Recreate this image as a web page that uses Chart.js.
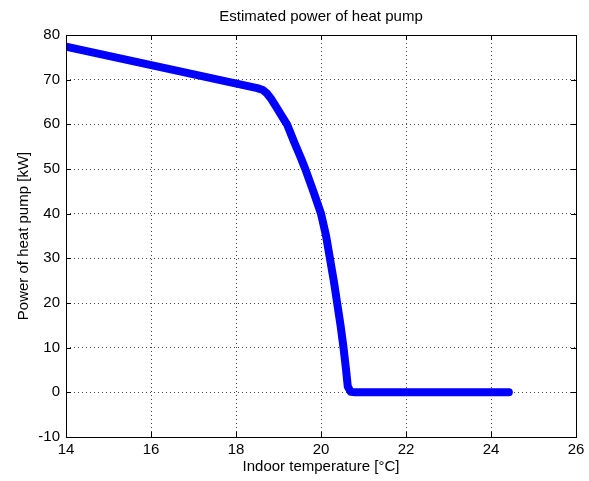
<!DOCTYPE html>
<html>
<head>
<meta charset="utf-8">
<script src="https://cdn.jsdelivr.net/npm/chart.js@4/dist/chart.umd.min.js"></script>
<style>
html,body{margin:0;padding:0;background:#fff;}
#wrap{width:589px;height:481px;}
</style>
</head>
<body>
<div id="wrap"><canvas id="c" width="589" height="481"></canvas></div>
<script>
const titleText = "Estimated power of heat pump";
const xLabel = "Indoor temperature [°C]";
const yLabel = "Power of heat pump [kW]";
const xTicks = [14, 16, 18, 20, 22, 24, 26];
const yTicks = [-10, 0, 10, 20, 30, 40, 50, 60, 70, 80];
const temperature = [14, 18.5, 18.62, 18.72, 18.82, 18.96, 19.1, 19.2, 19.37, 19.53, 19.63, 19.82, 20.0, 20.12, 20.21, 20.3, 20.38, 20.46, 20.53, 20.59, 20.63, 20.7, 20.8, 24.42];
const power = [77.4, 68.1, 67.75, 67.0, 65.8, 63.7, 61.5, 60, 56, 52.4, 50, 45, 40, 35, 30, 25, 20, 15, 10, 5, 1.3, 0.1, 0, 0];

const points = temperature.map((t, i) => ({x: t, y: power[i]}));
const FONT = {family: "'Liberation Sans', Arial, sans-serif", size: 15};

const boxPlugin = {
  id: 'boxTicks',
  afterDatasetsDraw(chart) {
    const {ctx, chartArea: a, scales: {x, y}} = chart;
    ctx.save();
    ctx.strokeStyle = '#000';
    ctx.lineWidth = 1;
    ctx.beginPath();
    const L = 5;
    xTicks.forEach(v => {
      const px = Math.round(x.getPixelForValue(v)) + 0.5;
      ctx.moveTo(px, a.bottom); ctx.lineTo(px, a.bottom - L);
      ctx.moveTo(px, a.top); ctx.lineTo(px, a.top + L);
    });
    yTicks.forEach(v => {
      const py = Math.round(y.getPixelForValue(v)) + 0.5;
      ctx.moveTo(a.left, py); ctx.lineTo(a.left + L, py);
      ctx.moveTo(a.right, py); ctx.lineTo(a.right - L, py);
    });
    ctx.stroke();
    ctx.strokeRect(Math.round(a.left) + 0.5, Math.round(a.top) + 0.5, Math.round(a.right - a.left), Math.round(a.bottom - a.top));
    ctx.restore();
  }
};

new Chart(document.getElementById('c'), {
  type: 'scatter',
  data: {
    datasets: [{
      data: points,
      showLine: true,
      borderColor: '#0000ff',
      backgroundColor: '#0000ff',
      borderWidth: 8,
      borderCapStyle: 'round',
      borderJoinStyle: 'round',
      pointRadius: 0,
      tension: 0,
      clip: 0
    }]
  },
  options: {
    responsive: false,
    animation: false,
    devicePixelRatio: 1,
    layout: {padding: {left: 0, right: 13, top: 0, bottom: 0}},
    plugins: {
      legend: {display: false},
      tooltip: {enabled: false},
      title: {display: false}
    },
    scales: {
      xTop: {
        type: 'linear',
        position: 'top',
        min: 14, max: 26,
        afterFit(s) { s.height = 35; },
        ticks: {display: false},
        grid: {display: false, drawTicks: false},
        border: {display: false},
        title: {display: true, text: titleText, color: '#000', font: FONT, padding: {top: 8, bottom: 0}}
      },
      x: {
        type: 'linear',
        position: 'bottom',
        min: 14, max: 26,
        afterBuildTicks(s) { s.ticks = xTicks.map(v => ({value: v})); },
        afterFit(s) { s.height = 44; },
        ticks: {color: '#000', font: FONT, padding: 4, maxRotation: 0, autoSkip: false},
        grid: {color: '#444', drawTicks: false, lineWidth: 1},
        border: {display: false, dash: [1, 3]},
        title: {display: true, text: xLabel, color: '#000', font: FONT, padding: {top: 0, bottom: 5}}
      },
      y: {
        type: 'linear',
        min: -10, max: 80,
        afterBuildTicks(s) { s.ticks = yTicks.map(v => ({value: v})); },
        afterFit(s) { s.width = 66; },
        ticks: {color: '#000', font: FONT, padding: 6, autoSkip: false},
        grid: {color: '#444', drawTicks: false, lineWidth: 1},
        border: {display: false, dash: [1, 3]},
        title: {display: true, text: yLabel, color: '#000', font: FONT, padding: {top: 15, bottom: 0}}
      }
    }
  },
  plugins: [boxPlugin]
});
</script>
</body>
</html>
